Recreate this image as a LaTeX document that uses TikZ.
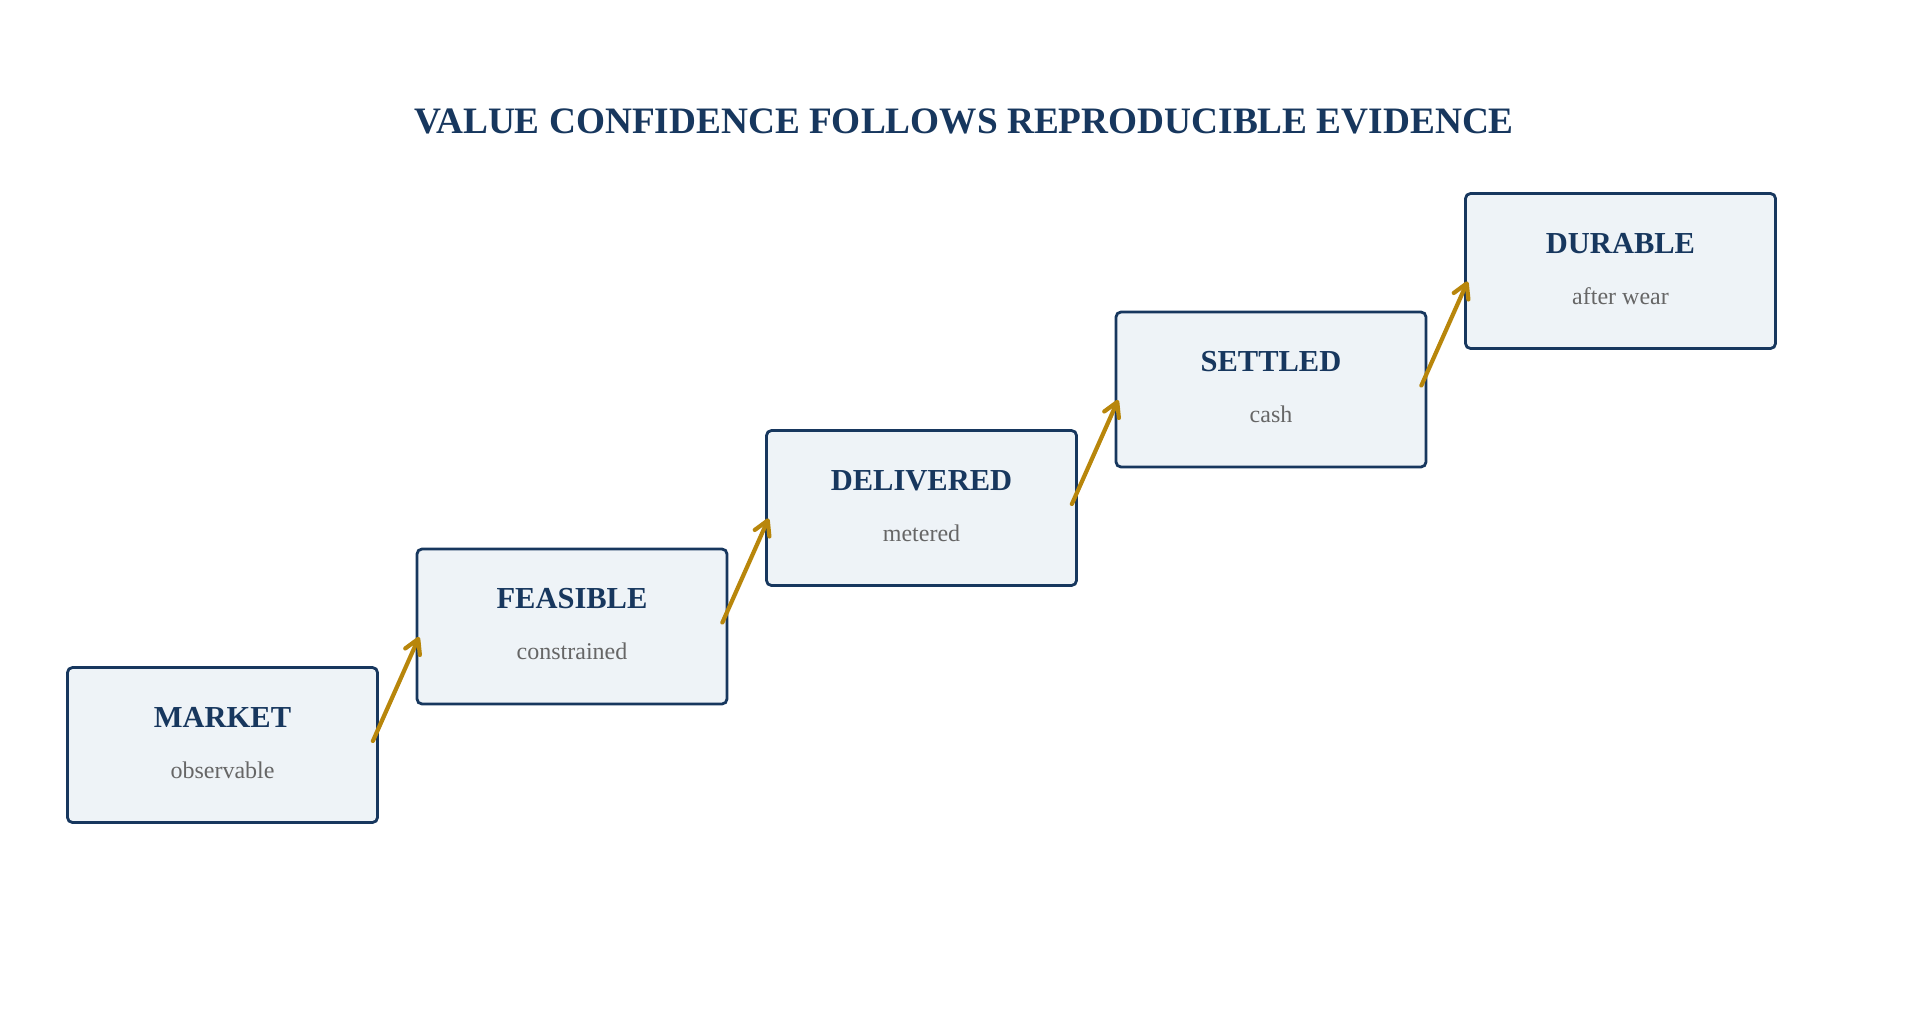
\documentclass[tikz,border=0pt]{standalone}
\usepackage{fontspec}
\setmainfont{Liberation Serif}
\usetikzlibrary{arrows.meta}
\definecolor{navy}{HTML}{17375E}
\definecolor{boxfill}{HTML}{EEF3F7}
\definecolor{gold}{HTML}{B8860B}
\definecolor{subgray}{HTML}{666666}
\tikzset{
  stagebox/.style={draw=navy, fill=boxfill, line width=2.8pt, rounded corners=5pt,
    minimum width=310pt, minimum height=155pt, inner sep=0pt},
  stagelabel/.style={anchor=base, text=navy, font=\bfseries\fontsize{30.5}{36}\selectfont, inner sep=0pt},
  stagesub/.style={anchor=base, text=subgray, font=\fontsize{24}{28}\selectfont, inner sep=0pt},
  titlestyle/.style={anchor=base, text=navy, font=\bfseries\fontsize{37.3}{44}\selectfont, inner sep=0pt},
  flow/.style={draw=gold, line width=4.2pt, line cap=round, line join=round,
    -{Straight Barb[length=14pt,width=16pt,line cap=round,line join=round]}}
}
\begin{document}
\begin{tikzpicture}[x=1pt,y=-1pt]
\useasboundingbox (0,0) rectangle (1919,1026);
\node[titlestyle] (title) at (964,133) {VALUE CONFIDENCE FOLLOWS REPRODUCIBLE EVIDENCE};
\foreach \i/\lab/\sub in {0/MARKET/observable,1/FEASIBLE/constrained,2/DELIVERED/metered,3/SETTLED/cash,4/DURABLE/after wear}{
  \node[stagebox] (b\i) at (222.5+349.5*\i, 745-118.5*\i) {};
  \node[stagelabel] (l\i) at (222.5+349.5*\i, 727-118.5*\i) {\lab};
  \node[stagesub] (s\i) at (222.5+349.5*\i, 778-118.5*\i) {\sub};
}
\foreach \i/\j in {0/1,1/2,2/3,3/4}{
  \draw[flow] ([xshift=-6pt,yshift=4pt]b\i.east) -- ([xshift=3.5pt,yshift=-10.5pt]b\j.west);
}
\end{tikzpicture}
\end{document}
